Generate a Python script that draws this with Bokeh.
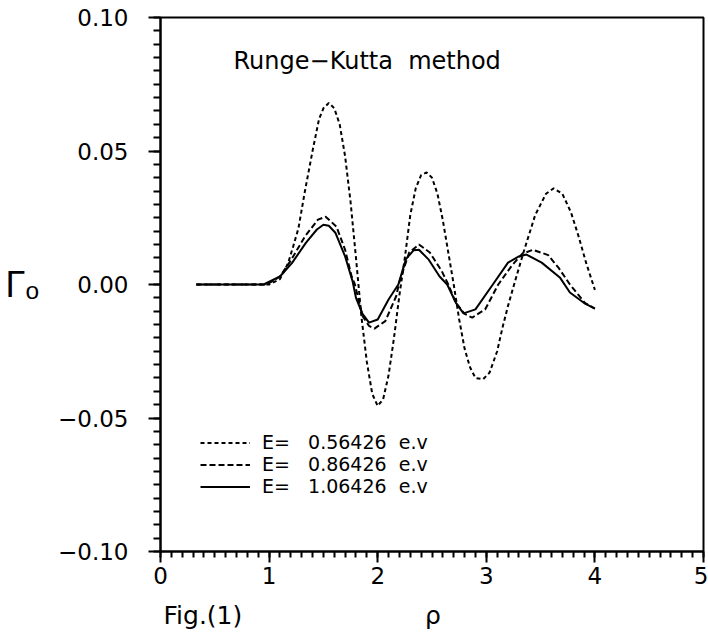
from bokeh.plotting import figure
from bokeh.models import (Range1d, SingleIntervalTicker, Label, Legend, LegendItem,
                          CustomJSTickFormatter, Title)
from bokeh.embed import file_html
from bokeh.resources import INLINE

# ---- data ----
rho_e1 = [0.33, 0.6, 0.9, 1.0, 1.1, 1.175, 1.22, 1.27, 1.33, 1.40, 1.46, 1.50, 1.55,
          1.60, 1.65, 1.70, 1.75, 1.80, 1.85, 1.90, 1.95, 2.00, 2.05, 2.10, 2.15, 2.20,
          2.25, 2.30, 2.35, 2.40, 2.45, 2.50, 2.55, 2.60, 2.65, 2.70, 2.75, 2.80, 2.85,
          2.90, 2.97, 3.03, 3.10, 3.15, 3.20, 3.27, 3.35, 3.45, 3.55, 3.62, 3.70, 3.78,
          3.85, 3.92, 4.00]
psi_e1 = [0.0, 0.0, 0.0, 0.0, 0.002, 0.008, 0.014, 0.021, 0.035, 0.050, 0.062, 0.066, 0.068,
          0.066, 0.060, 0.048, 0.031, 0.010, -0.012, -0.029, -0.041, -0.0455, -0.043, -0.034,
          -0.020, -0.004, 0.010, 0.026, 0.036, 0.041, 0.042, 0.040, 0.034, 0.024, 0.012,
          0.000, -0.013, -0.024, -0.031, -0.035, -0.0355, -0.033, -0.025, -0.016, -0.008,
          0.002, 0.013, 0.026, 0.034, 0.036, 0.034, 0.027, 0.018, 0.008, -0.002]

rho_e2 = [0.33, 0.6, 0.98, 1.1, 1.2, 1.33, 1.45, 1.52, 1.62, 1.70, 1.76, 1.79, 1.86, 1.92,
          1.97, 2.07, 2.17, 2.20, 2.29, 2.38, 2.48, 2.59, 2.65, 2.72, 2.80, 2.87, 2.99,
          3.11, 3.23, 3.33, 3.43, 3.57, 3.67, 3.77, 3.85, 3.91, 4.00]
psi_e2 = [0.0, 0.0, 0.0, 0.003, 0.009, 0.018, 0.0243, 0.0254, 0.0217, 0.013, 0.003, 0.0,
          -0.0118, -0.0155, -0.0165, -0.0137, -0.0044, 0.001, 0.012, 0.015, 0.012, 0.005,
          0.0, -0.0069, -0.011, -0.0124, -0.0093, 0.0, 0.0068, 0.0115, 0.013, 0.011, 0.006,
          0.0, -0.004, -0.007, -0.009]

rho_e3 = [0.33, 0.6, 0.95, 1.1, 1.21, 1.34, 1.44, 1.50, 1.55, 1.61, 1.70, 1.77, 1.80, 1.86,
          1.92, 2.00, 2.10, 2.19, 2.26, 2.33, 2.38, 2.47, 2.57, 2.64, 2.72, 2.79, 2.90,
          3.06, 3.20, 3.30, 3.37, 3.51, 3.68, 3.77, 3.91, 4.00]
psi_e3 = [0.0, 0.0, 0.0, 0.003, 0.008, 0.0157, 0.0206, 0.0224, 0.022, 0.0194, 0.0105, 0.001,
          -0.005, -0.011, -0.0143, -0.0131, -0.0056, 0.0, 0.0095, 0.0128, 0.013, 0.0093,
          0.003, 0.0, -0.0069, -0.0108, -0.0093, 0.0, 0.0082, 0.0105, 0.0112, 0.0082,
          0.0025, -0.003, -0.0072, -0.009]

NB = "\u00a0"
legend_labels = ["E=" + NB * 3 + "0.56426" + NB * 2 + "e.v",
                 "E=" + NB * 3 + "0.86426" + NB * 2 + "e.v",
                 "E=" + NB * 3 + "1.06426" + NB * 2 + "e.v"]
title_text = "Runge\u2212Kutta" + NB * 2 + "method"
y_label = "Γₒ"
caption_text = "Fig.(1)" + NB * 23 + "ρ"

FONT = "DejaVu Sans"

p = figure(width=708, height=641, output_backend="svg", toolbar_location=None,
           x_range=Range1d(0, 5), y_range=Range1d(-0.10, 0.10))
p.min_border_left = 160
p.min_border_right = 5
p.min_border_top = 17
p.min_border_bottom = 89
p.background_fill_color = "white"
p.border_fill_color = "white"
p.outline_line_color = "black"
p.outline_line_width = 2
p.grid.visible = False

# axes
p.xaxis.ticker = SingleIntervalTicker(interval=1, num_minor_ticks=10)
p.yaxis.ticker = SingleIntervalTicker(interval=0.05, num_minor_ticks=10)
p.yaxis.formatter = CustomJSTickFormatter(code="""
    const v = Math.abs(tick) < 1e-9 ? 0 : tick;
    return (v < 0 ? '\u2212' : '') + Math.abs(v).toFixed(2);
""")
for ax in (p.xaxis[0], p.yaxis[0]):
    ax.axis_line_width = 2
    ax.axis_line_color = "black"
    ax.major_tick_line_width = 2
    ax.minor_tick_line_width = 2
    ax.major_tick_in = 0
    ax.minor_tick_in = 0
    ax.major_label_text_font = FONT
    ax.major_label_text_font_size = "23px"
    ax.major_label_text_color = "black"
p.xaxis.major_tick_out = 11
p.xaxis.minor_tick_out = 6
p.xaxis.major_label_standoff = 4
p.yaxis.major_tick_out = 12
p.yaxis.minor_tick_out = 7
p.yaxis.major_label_standoff = 20

p.yaxis.axis_label = y_label
p.yaxis.axis_label_orientation = "horizontal"
p.yaxis.axis_label_text_font = "Liberation Sans"
p.yaxis.axis_label_text_font_style = "normal"
p.yaxis.axis_label_text_font_size = "36px"
p.yaxis.axis_label_standoff = 16
p.yaxis.axis_label_text_color = "black"

# curves
r1 = p.line(rho_e1, psi_e1, line_color="black", line_width=2, line_dash="4 3")
r2 = p.line(rho_e2, psi_e2, line_color="black", line_width=2, line_dash="6 3")
r3 = p.line(rho_e3, psi_e3, line_color="black", line_width=2)

legend = Legend(items=[LegendItem(label=legend_labels[0], renderers=[r1]),
                       LegendItem(label=legend_labels[1], renderers=[r2]),
                       LegendItem(label=legend_labels[2], renderers=[r3])],
                location=(40, 54))
legend.background_fill_alpha = 0
legend.border_line_alpha = 0
legend.padding = 0
legend.margin = 0
legend.spacing = 0
legend.glyph_width = 50
legend.glyph_height = 21
legend.label_height = 21
legend.label_standoff = 12
legend.label_text_font = FONT
legend.label_text_font_size = "19px"
legend.label_text_color = "black"
p.add_layout(legend, "center")

# texts
p.add_layout(Label(x=73, y=491, x_units="screen", y_units="screen", text=title_text,
                   text_font=FONT, text_font_size="24px", text_color="black",
                   text_baseline="alphabetic"))
p.add_layout(Title(text=caption_text, align="left", offset=3, standoff=24,
                   text_font=FONT, text_font_size="25px", text_font_style="normal",
                   text_color="black"), "below")

open("out.html", "w").write(file_html(p, INLINE))
